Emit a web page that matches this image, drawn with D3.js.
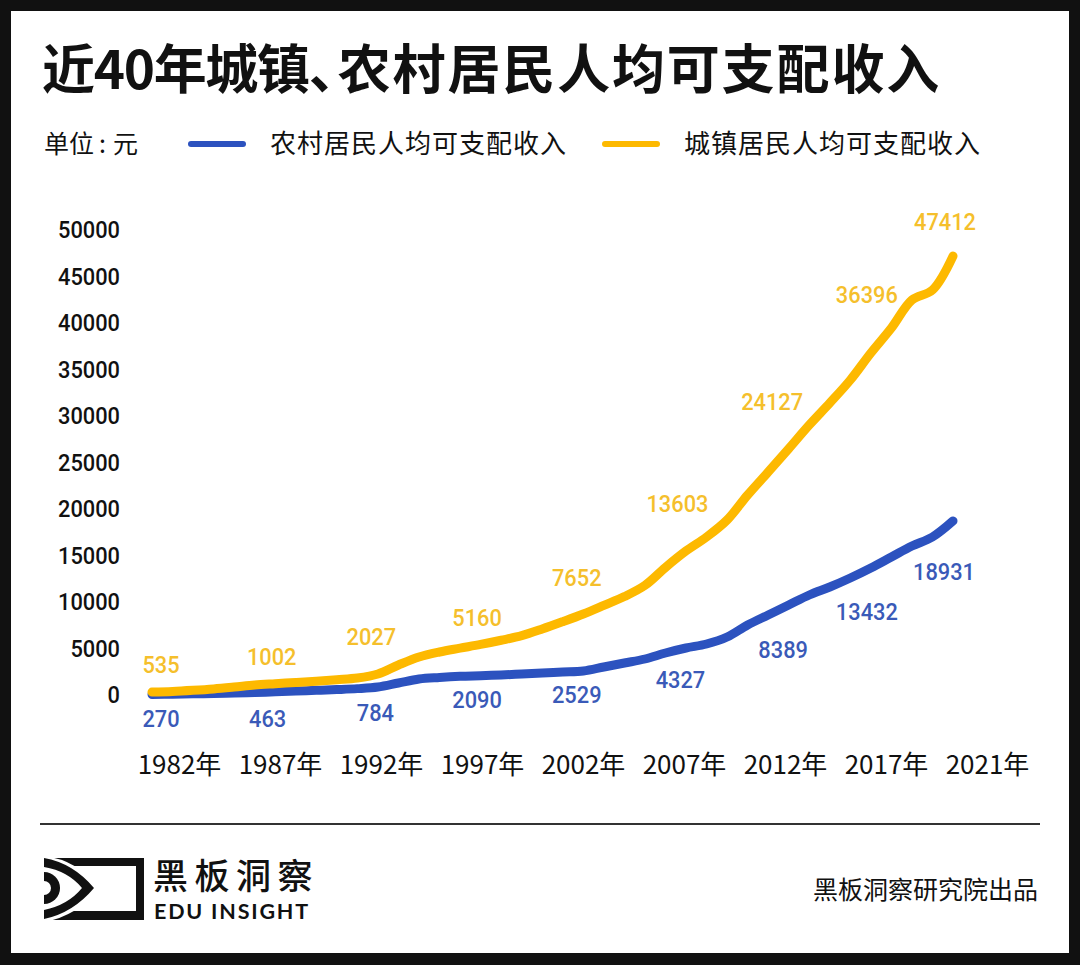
<!DOCTYPE html>
<html><head><meta charset="utf-8">
<script src="https://cdn.jsdelivr.net/npm/d3@7/dist/d3.min.js"></script>
<style>html,body{margin:0;padding:0;background:#111}svg{display:block}</style>
</head><body><svg id="c" width="1080" height="965"></svg>
<script>
const years = d3.range(1982, 2022);
const urban = [535,600,720,870,1070,1290,1430,1560,1700,1860,2040,2473,3441,4301,4839,5250,5650,6100,6600,7312,8100,8925,9850,10800,12000,13930,15700,17204,19032,21720,24194,26700,29247,31613,34086,36989,39677,42688,43763,47412];
const rural = [270,300,340,380,420,480,560,640,720,800,900,1075,1505,1935,2100,2220,2290,2366,2473,2581,2688,2796,3226,3656,4086,4731,5269,5699,6452,7742,8817,9892,10968,11828,12796,13871,15054,16237,17204,18931];
const labelYears = [1982,1987,1992,1997,2002,2007,2012,2017,2021];
const urbanLabels = [535,1002,2027,5160,7652,13603,24127,36396,47412];
const ruralLabels = [270,463,784,2090,2529,4327,8389,13432,18931];
const yTicks = [0,5000,10000,15000,20000,25000,30000,35000,40000,45000,50000];
const xLabels = ["1982年","1987年","1992年","1997年","2002年","2007年","2012年","2017年","2021年"];
const urbanNudge = [[9,-27],[17,-31],[14,-41],[17,-31],[14,-48],[12,-67],[4,-71],[-4,-64],[-8,-34]];
const ruralNudge = [[9,24],[13,26],[18,23],[17,22],[14,21],[15,23],[15,31],[-4,40],[-9,51]];
const BLUE="#2c52bf", GOLD="#fdb900", BLUE_T="#3a5ab8", GOLD_T="#f5bf2c", INK="#111";
const CJK='"Noto Sans CJK SC","Noto Sans",sans-serif';
const NUM='Roboto,"Noto Sans",sans-serif';
const DIGIT_W=12.4;

const svg=d3.select("#c");
svg.append("rect").attr("width",1080).attr("height",965).attr("fill",INK);
svg.append("rect").attr("x",11).attr("y",11).attr("width",1058).attr("height",942).attr("fill","#fff");

const T=(x,y,s,size,o={})=>svg.append("text").attr("x",x).attr("y",y).text(s)
  .attr("font-family",o.family||CJK).attr("font-size",size).attr("font-weight",o.weight||400)
  .attr("fill",o.fill||INK).attr("text-anchor",o.anchor||"start").attr("dy",".35em")
  .attr("letter-spacing",o.ls||0);

const title=T(42,70,"",53,{weight:700});
title.append("tspan").attr("letter-spacing",-1.3).text("近40年城镇");
title.append("tspan").attr("letter-spacing",-24).text("、");
title.append("tspan").attr("letter-spacing",1.85).text("农村居民人均可支配收入");

const unit=T(44,144,"",25);
unit.append("tspan").text("单位");
unit.append("tspan").attr("dx",5).attr("letter-spacing",7).text(":");
unit.append("tspan").text("元");
T(270,144,"农村居民人均可支配收入",26,{ls:1});
T(684,144,"城镇居民人均可支配收入",26,{ls:1});
const leg=(x,c)=>svg.append("line").attr("x1",x).attr("x2",x+52).attr("y1",144).attr("y2",144).attr("stroke",c).attr("stroke-width",6).attr("stroke-linecap","round");
leg(191,BLUE); leg(605,GOLD);

const x=d3.scaleLinear().domain([1982,2021]).range([152,953]);
const y=d3.scaleLinear().domain([0,50000]).range([697,232]);
const xTickScale=d3.scalePoint().domain(xLabels).range([179,987]);

const yAxis=svg.append("g").attr("transform","translate(120,-2)")
  .call(d3.axisLeft(y).tickValues(yTicks).tickSize(0).tickPadding(0).tickFormat(d3.format("d")));
yAxis.select(".domain").remove();
yAxis.selectAll("text").attr("font-family",NUM).attr("font-size",23.5).attr("fill",INK).attr("font-weight",500)
  .attr("textLength",d=>String(d).length*DIGIT_W).attr("lengthAdjust","spacingAndGlyphs");

const xAxis=svg.append("g").attr("transform","translate(0,756)")
  .call(d3.axisBottom(xTickScale).tickSize(0).tickPadding(0));
xAxis.select(".domain").remove();
xAxis.selectAll("text").attr("font-family",CJK).attr("font-size",26).attr("fill",INK);

const line=d3.line().x((d,i)=>x(years[i])).y(d=>y(d)).curve(d3.curveCatmullRom.alpha(0.5));
[[rural,BLUE],[urban,GOLD]].forEach(([s,c])=>svg.append("path").datum(s).attr("d",line)
  .attr("fill","none").attr("stroke",c).attr("stroke-width",9).attr("stroke-linecap","round").attr("stroke-linejoin","round"));

const addLabels=(vals,nudge,c)=>labelYears.forEach((yr,i)=>{
  const v=vals[i];
  T(x(yr)+nudge[i][0],y(v)+nudge[i][1],v,23.5,{family:NUM,fill:c,anchor:"middle",weight:500})
    .attr("textLength",String(v).length*DIGIT_W).attr("lengthAdjust","spacingAndGlyphs");
});
addLabels(urbanLabels,urbanNudge,GOLD_T);
addLabels(ruralLabels,ruralNudge,BLUE_T);

svg.append("line").attr("x1",40).attr("x2",1040).attr("y1",824).attr("y2",824).attr("stroke","#333").attr("stroke-width",2);

svg.append("rect").attr("x",44).attr("y",858).attr("width",100).attr("height",62).attr("fill",INK);
svg.append("rect").attr("x",44).attr("y",866).attr("width",92).attr("height",45).attr("fill","#fff");
svg.append("path").attr("d","M44,856 Q78,860 98,888 Q78,916 44,922 Z").attr("fill","#fff");
svg.append("path").attr("d","M44,858 Q73,863 94,888 Q73,913 44,919 L44,910 Q68,905 82,888 Q68,871 44,867 Z").attr("fill",INK);
svg.append("path").attr("d","M44,872 A16,16 0 0 1 44,904 Z").attr("fill",INK);
svg.append("path").attr("d","M44,881 A7,7 0 0 1 44,895 Z").attr("fill","#fff");

T(153,877,"黑板洞察",35,{weight:500,ls:6.5});
T(154,911,"EDU INSIGHT",21.5,{family:"Lato",weight:700,ls:1.8});
T(1038,890,"黑板洞察研究院出品",25,{anchor:"end"});
</script></body></html>
